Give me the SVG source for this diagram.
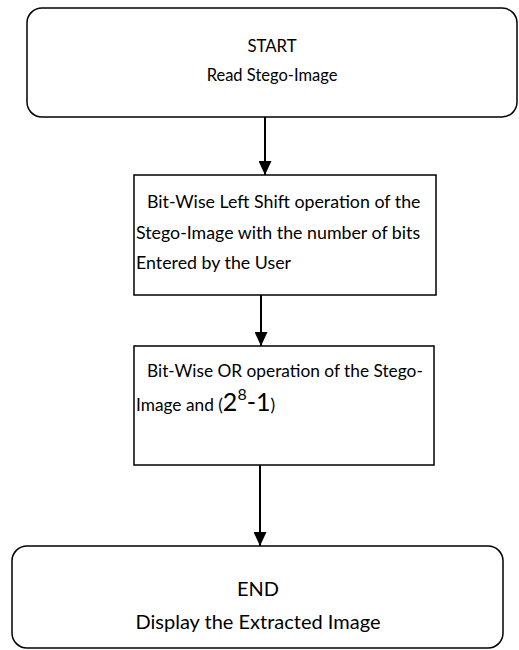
<svg xmlns="http://www.w3.org/2000/svg" width="519" height="650" viewBox="0 0 519 650">
<style>
.box{fill:#fff;stroke:#000;stroke-width:1.5}
.conn{stroke:#000;stroke-width:2;fill:none}
text{font-family:Lato,"Open Sans","Liberation Sans",sans-serif;fill:#000}
.t{font-size:17.8px}
.u{font-size:17.3px}
</style>
<defs>
<marker id="ah" markerWidth="14" markerHeight="13" refX="14" refY="6.5" orient="auto" markerUnits="userSpaceOnUse" viewBox="0 0 14 13">
<path d="M0,0 L14,6.5 L0,13 Z" fill="#000"/>
</marker>
</defs>
<rect width="519" height="650" fill="#fff"/>
<g id="connectors">
<line class="conn" x1="265" y1="117" x2="265" y2="175" marker-end="url(#ah)"/>
<line class="conn" x1="261" y1="295" x2="261" y2="346" marker-end="url(#ah)"/>
<line class="conn" x1="260" y1="465" x2="260" y2="546" marker-end="url(#ah)"/>
</g>
<g id="start">
<rect class="box" x="27" y="8" width="490" height="109" rx="15"/>
<text x="272" y="52" font-size="16.8" text-anchor="middle">START</text>
<text x="272" y="81" font-size="16.5" text-anchor="middle">Read Stego-Image</text>
</g>
<g id="shift">
<rect class="box" x="134" y="175" width="302" height="120"/>
<text class="t" x="147" y="208">Bit-Wise Left  Shift operation of the</text>
<text class="t" x="136" y="239">Stego-Image with the number of bits</text>
<text class="t" x="136" y="269">Entered by the User</text>
</g>
<g id="or">
<rect class="box" x="134" y="346" width="300" height="119"/>
<text class="u" x="147" y="377">Bit-Wise OR operation of the Stego-</text>
<text class="u" x="136" y="411">Image and (<tspan font-size="25">2</tspan><tspan font-size="16" dy="-11">8</tspan><tspan font-size="25" dy="11">-1</tspan>)</text>
</g>
<g id="end">
<rect class="box" x="12" y="546" width="491" height="102" rx="15"/>
<text x="258" y="596" font-size="20" text-anchor="middle">END</text>
<text x="258" y="629" font-size="20" text-anchor="middle">Display the Extracted Image</text>
</g>
</svg>
